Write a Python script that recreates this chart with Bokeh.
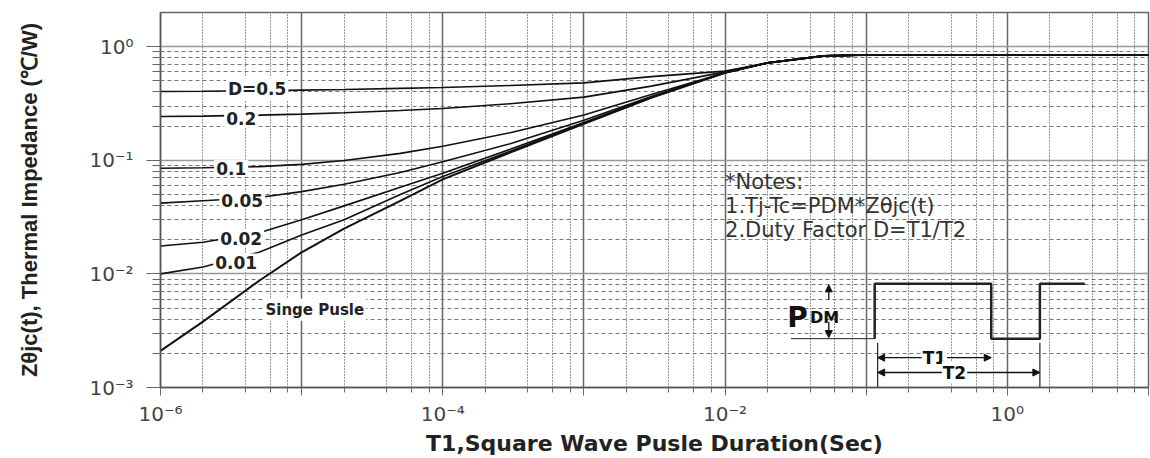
from bokeh.plotting import figure
from bokeh.models import (FixedTicker, CustomJSTickFormatter, Label, Arrow,
                          NormalHead, Range1d)
from bokeh.embed import file_html
from bokeh.resources import INLINE

# ---------------- data ----------------
t = [1e-6, 2e-6, 5e-6, 1e-5, 2e-5, 5e-5, 1e-4, 3e-4, 1e-3, 3e-3,
     1e-2, 2e-2, 5e-2, 1e-1, 1.0, 10.0]
z_d05 = [0.403, 0.405, 0.41, 0.415, 0.42, 0.43, 0.437, 0.455, 0.48, 0.545,
         0.61, 0.72, 0.83, 0.845, 0.845, 0.845]
z_d02 = [0.243, 0.245, 0.25, 0.255, 0.262, 0.274, 0.286, 0.315, 0.36, 0.45,
         0.60, 0.72, 0.83, 0.845, 0.845, 0.845]
z_d01 = [0.085, 0.086, 0.088, 0.092, 0.0995, 0.115, 0.133, 0.175, 0.25, 0.38,
         0.59, 0.72, 0.83, 0.845, 0.845, 0.845]
z_d005 = [0.042, 0.044, 0.047, 0.053, 0.0615, 0.078, 0.097, 0.14, 0.225, 0.365,
          0.59, 0.72, 0.83, 0.845, 0.845, 0.845]
z_d002 = [0.0176, 0.019, 0.023, 0.030, 0.0397, 0.058, 0.077, 0.125, 0.215, 0.36,
          0.59, 0.72, 0.83, 0.845, 0.845, 0.845]
z_d001 = [0.010, 0.0115, 0.0155, 0.022, 0.030, 0.050, 0.072, 0.12, 0.213, 0.357,
          0.59, 0.72, 0.83, 0.845, 0.845, 0.845]
z_single = [0.0021, 0.0038, 0.0087, 0.0155, 0.025, 0.044, 0.068, 0.117, 0.21, 0.355,
            0.59, 0.72, 0.83, 0.845, 0.845, 0.845]

series = [z_d05, z_d02, z_d01, z_d005, z_d002, z_d001, z_single]

curve_labels = ["D=0.5", "0.2", "0.1", "0.05", "0.02", "0.01", "Singe Pusle"]
curve_label_t = [4.84e-6, 3.73e-6, 3.17e-6, 3.79e-6, 3.73e-6, 3.44e-6, 1.24e-5]
curve_label_z = [0.428, 0.233, 0.0851, 0.0446, 0.0207, 0.0127, 0.00483]

x_ticks = [1e-6, 1e-5, 1e-4, 1e-3, 1e-2, 1e-1, 1.0, 10.0]
x_tick_labels = ["10⁻⁶", "", "10⁻⁴", "", "10⁻²", "", "10⁰", ""]
y_ticks = [1e-3, 1e-2, 1e-1, 1.0]
y_tick_labels = ["10⁻³", "10⁻²", "10⁻¹", "10⁰"]
x_minor = [m * 10.0 ** e for e in range(-6, 1) for m in (2, 4, 6, 8)]
y_minor = [m * 10.0 ** e for e in range(-3, 0) for m in range(2, 10)]

notes = ["*Notes:", "1.Tj-Tc=PDM*Zθjc(t)", "2.Duty Factor D=T1/T2"]
notes_t = 0.01
notes_z = [0.0641, 0.0395, 0.0243]

# pulse diagram (schematic)
pulse_base_t = [0.0293, 0.1148]
pulse_base_z = [0.00269, 0.00269]
pulse_wave_t = [0.1148, 0.1148, 0.769, 0.769, 1.70, 1.70, 3.54]
pulse_wave_z = [0.00269, 0.00817, 0.00817, 0.00269, 0.00269, 0.00817, 0.00817]
bound_t = [0.1205, 1.70]
bound_z = [0.00248, 0.001]
pdm_t = 0.0543
pdm_up = (0.00592, 0.00801)
pdm_dn = (0.00379, 0.00275)
t1_z, t1_mid, t1_end = 0.00183, 0.304, 0.769
t2_z, t2_mid, t2_end = 0.001355, 0.422, 1.70

# ---------------- figure ----------------
p = figure(width=1150, height=458, x_axis_type="log", y_axis_type="log",
           x_range=Range1d(1e-6, 10.0), y_range=Range1d(1e-3, 2.0),
           output_backend="svg", toolbar_location=None,
           min_border_left=160, min_border_right=2, min_border_top=12,
           min_border_bottom=70)
p.background_fill_color = "white"
p.border_fill_color = "white"
p.outline_line_color = "#666666"
p.outline_line_width = 1.5

p.xaxis.ticker = FixedTicker(ticks=x_ticks, minor_ticks=x_minor)
p.yaxis.ticker = FixedTicker(ticks=y_ticks, minor_ticks=y_minor)
p.xaxis.formatter = CustomJSTickFormatter(
    args=dict(vals=x_ticks, labs=x_tick_labels),
    code="const i = vals.findIndex((v) => Math.abs(Math.log10(v) - Math.log10(tick)) < 1e-6);"
         "return i >= 0 ? labs[i] : '';")
p.yaxis.formatter = CustomJSTickFormatter(
    args=dict(vals=y_ticks, labs=y_tick_labels),
    code="const i = vals.findIndex((v) => Math.abs(Math.log10(v) - Math.log10(tick)) < 1e-6);"
         "return i >= 0 ? labs[i] : '';")

for ax in (p.xaxis, p.yaxis):
    ax.axis_line_color = "#555555"
    ax.axis_line_width = 1.5
    ax.major_tick_line_color = "#666666"
    ax.minor_tick_line_color = "#666666"
    ax.major_tick_in = 0
    ax.minor_tick_in = 0
    ax.major_label_text_font = "DejaVu Sans"
    ax.major_label_text_font_size = "20px"
    ax.major_label_text_color = "#444444"
    ax.axis_label_text_color = "#222222"
    ax.axis_label_text_font_style = "bold"

p.xaxis.major_tick_out = 8
p.xaxis.minor_tick_out = 5
p.xaxis.major_label_standoff = 6
p.yaxis.major_tick_out = 14
p.yaxis.minor_tick_out = 8
p.yaxis.major_label_standoff = 13

p.xaxis.axis_label = "T1,Square Wave Pusle Duration(Sec)"
p.xaxis.axis_label_text_font = "DejaVu Sans"
p.xaxis.axis_label_text_font_size = "22px"
p.xaxis.axis_label_standoff = 2
p.yaxis.axis_label = "Zθjc(t), Thermal Impedance (℃/W)"
p.yaxis.axis_label_text_font = "Liberation Sans"
p.yaxis.axis_label_text_font_size = "22px"
p.yaxis.axis_label_standoff = 44

p.xgrid.grid_line_color = "#666666"
p.xgrid.grid_line_width = 1.5
p.xgrid.minor_grid_line_color = "#333333"
p.xgrid.minor_grid_line_dash = "1 2"
p.xgrid.minor_grid_line_width = 1
p.ygrid.grid_line_color = "#999999"
p.ygrid.grid_line_width = 1.5
p.ygrid.minor_grid_line_color = "#777777"
p.ygrid.minor_grid_line_dash = "4 3"
p.ygrid.minor_grid_line_width = 1

# curves
for i, z in enumerate(series):
    p.line(t, z, line_color="#111111", line_width=2.0 if i == len(series) - 1 else 1.6)

# curve labels
for txt, lx, ly in zip(curve_labels, curve_label_t, curve_label_z):
    size = "15px" if txt.startswith("S") else "17px"
    p.add_layout(Label(x=lx, y=ly, text=txt, text_font="DejaVu Sans",
                       text_font_style="bold", text_font_size=size,
                       text_color="#222222", text_align="center",
                       text_baseline="middle", background_fill_color="white",
                       padding=2))

# notes
for txt, nz in zip(notes, notes_z):
    p.add_layout(Label(x=notes_t, y=nz, text=txt, text_font="DejaVu Sans",
                       text_font_size="21px", text_color="#333333",
                       text_align="left", text_baseline="middle"))

# pulse diagram
p.line(pulse_base_t, pulse_base_z, line_color="#222222", line_width=1)
p.line(pulse_wave_t, pulse_wave_z, line_color="#222222", line_width=2.5)
for bt in bound_t:
    p.line([bt, bt], bound_z, line_color="#222222", line_width=1.2)

def arrow(x0, y0, x1, y1):
    p.add_layout(Arrow(end=NormalHead(size=7, fill_color="#111111",
                                      line_color="#111111"),
                       x_start=x0, y_start=y0, x_end=x1, y_end=y1,
                       line_color="#111111", line_width=1.3))

arrow(pdm_t, pdm_up[0], pdm_t, pdm_up[1])
arrow(pdm_t, pdm_dn[0], pdm_t, pdm_dn[1])
arrow(t1_mid, t1_z, bound_t[0], t1_z)
arrow(t1_mid, t1_z, t1_end, t1_z)
arrow(t2_mid, t2_z, bound_t[0], t2_z)
arrow(t2_mid, t2_z, t2_end, t2_z)

for txt, lx, ly in (("T1", t1_mid, t1_z), ("T2", t2_mid, t2_z)):
    p.add_layout(Label(x=lx, y=ly, text=txt, text_font="DejaVu Sans",
                       text_font_style="bold", text_font_size="17px",
                       text_color="#111111", text_align="center",
                       text_baseline="middle", background_fill_color="white",
                       padding=1))

p.add_layout(Label(x=0.0386, y=0.00411, text="P", text_font="DejaVu Sans",
                   text_font_style="bold", text_font_size="28px",
                   text_color="#111111", text_align="right",
                   text_baseline="alphabetic"))
p.add_layout(Label(x=0.0399, y=0.00411, text="DM", text_font="DejaVu Sans",
                   text_font_style="bold", text_font_size="16px",
                   text_color="#111111", text_align="left",
                   text_baseline="alphabetic"))

open("out.html", "w").write(file_html(p, INLINE))
